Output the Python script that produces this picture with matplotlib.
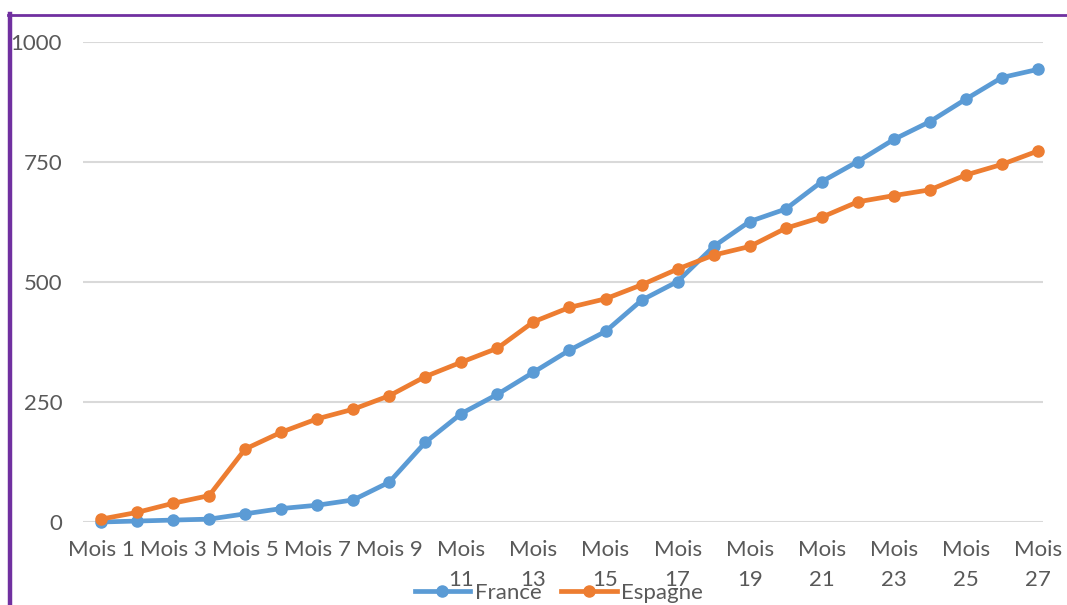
import matplotlib
matplotlib.use('Agg')
import matplotlib.pyplot as plt
from matplotlib.lines import Line2D

# Données
mois = [f"Mois {i}" for i in range(1, 28)]
france = [0, 2, 4, 6, 17, 28, 35, 46, 83, 166, 226, 266, 312, 358, 397,
          462, 501, 574, 626, 652, 709, 751, 797, 834, 881, 926, 943]
espagne = [6, 20, 39, 55, 152, 187, 215, 235, 263, 303, 333, 362, 417, 447, 465,
           494, 527, 556, 574, 612, 635, 667, 680, 692, 723, 745, 773]
y_ticks = [0, 250, 500, 750, 1000]

plt.rcParams['font.family'] = ['Lato', 'DejaVu Sans']

W, H = 1067, 605
fig = plt.figure(figsize=(W / 100, H / 100), dpi=100)
ax = fig.add_axes([83 / W, 1 - 522 / H, (1043 - 83) / W, (522 - 42) / H])

x = list(range(len(mois)))
ax.plot(x, france, '-o', color='#5B9BD5', lw=3.4, ms=8, label='France', clip_on=False, zorder=3)
ax.plot(x, espagne, '-o', color='#ED7D31', lw=3.4, ms=8, label='Espagne', clip_on=False, zorder=3)

ax.set_xlim(-0.5, 26.14)
ax.set_ylim(0, 1000)
ax.set_yticks(y_ticks)
ax.set_yticklabels([str(v) for v in y_ticks])
ax.grid(axis='y', color='#D9D9D9', lw=1.5)
ax.set_axisbelow(True)
for s in ax.spines.values():
    s.set_visible(False)

# étiquettes de l'axe X (un mois sur deux, retour à la ligne après Mois 9)
pos = x[::2]
labels = []
for i in pos:
    n = i + 1
    labels.append(f"Mois {n}" if n < 10 else f"Mois\n{n}")
ax.set_xticks(pos)
ax.set_xticklabels(labels, linespacing=1.6, va='top')
ax.tick_params(axis='both', length=0, colors='#595959', labelsize=16)
ax.tick_params(axis='y', pad=15)
ax.tick_params(axis='x', pad=13)

leg = fig.legend(loc='center', bbox_to_anchor=(559 / W, 1 - 593 / H), ncol=2,
                 frameon=False, fontsize=16, handlelength=2.5, columnspacing=0.9,
                 handletextpad=0.2)
for t in leg.get_texts():
    t.set_color('#595959')

# bordure violette
fig.add_artist(Line2D([9.5 / W, 9.5 / W], [0, 1 - 14 / H], color='#7030A0', lw=3.2))
fig.add_artist(Line2D([8 / W, 1], [1 - 14.5 / H, 1 - 14.5 / H], color='#7030A0', lw=2))

fig.savefig('out.png', dpi=100)
